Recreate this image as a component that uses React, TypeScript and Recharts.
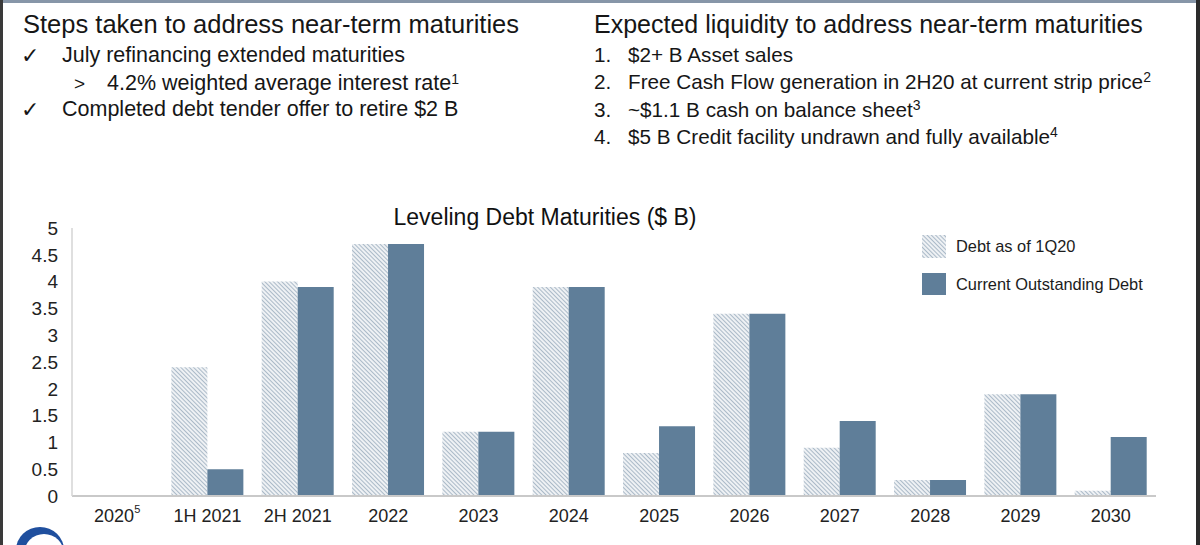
import React from 'react';
import { BarChart, Bar, XAxis, YAxis } from 'recharts';

const categories = ['2020', '1H 2021', '2H 2021', '2022', '2023', '2024', '2025', '2026', '2027', '2028', '2029', '2030'];
const superscripts = ['5', '', '', '', '', '', '', '', '', '', '', ''];
const debt1Q20 = [0, 2.4, 4.0, 4.7, 1.2, 3.9, 0.8, 3.4, 0.9, 0.3, 1.9, 0.1];
const currentDebt = [0, 0.5, 3.9, 4.7, 1.2, 3.9, 1.3, 3.4, 1.4, 0.3, 1.9, 1.1];
const yTicks = [0, 0.5, 1, 1.5, 2, 2.5, 3, 3.5, 4, 4.5, 5];

const seriesNames = ['Debt as of 1Q20', 'Current Outstanding Debt'];
const chartTitle = 'Leveling Debt Maturities ($ B)';

const data = categories.map((name, i) => ({
  name,
  sup: superscripts[i],
  debt1Q20: debt1Q20[i],
  current: currentDebt[i],
}));

const SOLID = '#5f7e99';
const FONT = '"Liberation Sans", Arial, sans-serif';
const TEXT = '#161616';

const XTick = (props: any) => {
  const { x, y, payload, index } = props;
  const sup = superscripts[index] || '';
  return (
    <text x={x} y={y} dy="0.71em" textAnchor="middle" fill="#222" fontSize={18} fontFamily={FONT}>
      {payload.value}
      {sup ? (
        <tspan fontSize={11} dy="-0.8em">{sup}</tspan>
      ) : null}
    </text>
  );
};

const leftItems = [
  { mark: '\u2713', text: 'July refinancing extended maturities', sup: '', indent: 0 },
  { mark: '>', text: '4.2% weighted average interest rate', sup: '1', indent: 1 },
  { mark: '\u2713', text: 'Completed debt tender offer to retire $2 B', sup: '', indent: 0 },
];

const rightItems = [
  { mark: '1.', text: '$2+ B Asset sales', sup: '' },
  { mark: '2.', text: 'Free Cash Flow generation in 2H20 at current strip price', sup: '2' },
  { mark: '3.', text: '~$1.1 B cash on balance sheet', sup: '3' },
  { mark: '4.', text: '$5 B Credit facility undrawn and fully available', sup: '4' },
];

const Sup = ({ s }: { s: string }) =>
  s ? <sup style={{ fontSize: 14, verticalAlign: 'top', position: 'relative', top: -4 }}>{s}</sup> : null;

export default function App() {
  return (
    <div
      style={{
        position: 'absolute',
        left: 0,
        top: 0,
        width: 1200,
        height: 545,
        background: '#ffffff',
        overflow: 'hidden',
        fontFamily: FONT,
        color: TEXT,
      }}
    >
      <svg width={0} height={0} style={{ position: 'absolute' }}>
        <defs>
          <pattern id="hatch" width={3} height={3} patternUnits="userSpaceOnUse" patternTransform="rotate(-45)">
            <rect width={3} height={3} fill="#eef1f4" />
            <line x1={0} y1={0} x2={0} y2={3} stroke="#8ea2b5" strokeWidth={1.4} />
          </pattern>
        </defs>
      </svg>

      {/* frame */}
      <div style={{ position: 'absolute', left: 0, top: 0, width: 1200, height: 3, background: '#8796a8' }} />
      <div style={{ position: 'absolute', left: 0, top: 0, width: 3, height: 545, background: '#3a3a3a' }} />
      <div style={{ position: 'absolute', left: 1196, top: 0, width: 4, height: 545, background: '#2b2b2b' }} />

      {/* left block */}
      <div style={{ position: 'absolute', left: 23, top: 8, fontSize: 25.5, lineHeight: '32px', whiteSpace: 'nowrap' }}>
        Steps taken to address near-term maturities
      </div>
      {leftItems.map((it, i) => (
        <div
          key={i}
          style={{ position: 'absolute', left: 0, top: [42, 70, 96][i], fontSize: 21.5, lineHeight: '27px', whiteSpace: 'nowrap' }}
        >
          <span style={{ position: 'absolute', left: it.indent ? 74 : 21, fontSize: it.indent ? 19 : 22 }}>{it.mark}</span>
          <span style={{ position: 'absolute', left: it.indent ? 107 : 62 }}>
            {it.text}
            <Sup s={it.sup} />
          </span>
        </div>
      ))}

      {/* right block */}
      <div style={{ position: 'absolute', left: 594, top: 8, fontSize: 25, lineHeight: '32px', whiteSpace: 'nowrap' }}>
        Expected liquidity to address near-term maturities
      </div>
      {rightItems.map((it, i) => (
        <div
          key={i}
          style={{ position: 'absolute', left: 0, top: 41 + i * 27.3, fontSize: 20.7, lineHeight: '27px', whiteSpace: 'nowrap' }}
        >
          <span style={{ position: 'absolute', left: 594 }}>{it.mark}</span>
          <span style={{ position: 'absolute', left: 628 }}>
            {it.text}
            <Sup s={it.sup} />
          </span>
        </div>
      ))}

      {/* chart title */}
      <div
        style={{
          position: 'absolute',
          left: 345,
          width: 400,
          top: 203,
          textAlign: 'center',
          fontSize: 23,
          lineHeight: '28px',
          color: '#111',
        }}
      >
        {chartTitle}
      </div>

      {/* legend */}
      <div style={{ position: 'absolute', left: 922, top: 234, fontSize: 16.4, color: '#1c1c1c' }}>
        <div style={{ display: 'flex', alignItems: 'center', height: 24 }}>
          <svg width={24} height={23} style={{ marginRight: 10 }}>
            <rect width={24} height={23} fill="url(#hatch)" />
          </svg>
          {seriesNames[0]}
        </div>
        <div style={{ display: 'flex', alignItems: 'center', height: 24, marginTop: 14 }}>
          <svg width={24} height={22} style={{ marginRight: 10 }}>
            <rect width={24} height={22} fill={SOLID} />
          </svg>
          {seriesNames[1]}
        </div>
      </div>

      {/* chart */}
      <div style={{ position: 'absolute', left: 0, top: 200 }}>
        <BarChart
          width={1200}
          height={345}
          data={data}
          margin={{ top: 28, right: 44, bottom: 19, left: 0 }}
          barCategoryGap="10%"
          barGap={0}
        >
          <XAxis
            dataKey="name"
            height={30}
            tickLine={false}
            tickSize={0}
            tickMargin={13}
            axisLine={{ stroke: '#c9c9c9', strokeWidth: 2 }}
            tick={<XTick />}
            interval={0}
          />
          <YAxis
            width={72}
            domain={[0, 5]}
            ticks={yTicks}
            interval={0}
            tickLine={false}
            tickSize={0}
            tickMargin={14}
            axisLine={{ stroke: '#d4d4d4', strokeWidth: 1.5 }}
            tick={{ fill: '#222', fontSize: 19, fontFamily: FONT }}
          />
          <Bar dataKey="debt1Q20" name={seriesNames[0]} fill="url(#hatch)" isAnimationActive={false} />
          <Bar dataKey="current" name={seriesNames[1]} fill={SOLID} isAnimationActive={false} />
        </BarChart>
      </div>

      {/* logo fragment */}
      <svg style={{ position: 'absolute', left: 14, top: 524 }} width={52} height={21}>
        <ellipse cx={26} cy={26} rx={24} ry={23} fill="#1f4f9e" />
        <ellipse cx={30} cy={30} rx={20} ry={20} fill="#ffffff" />
      </svg>
    </div>
  );
}
